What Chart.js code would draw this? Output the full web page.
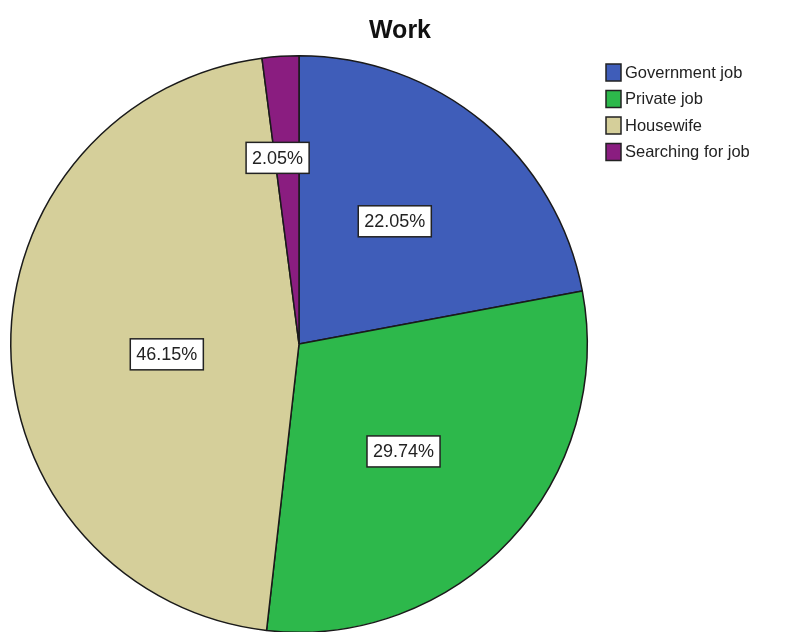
<!DOCTYPE html>
<html>
<head>
<meta charset="utf-8">
<script src="https://cdn.jsdelivr.net/npm/chart.js@4/dist/chart.umd.min.js"></script>
<style>
  html, body { margin: 0; padding: 0; background: #fff; overflow: hidden; }
  #wrap { position: relative; width: 796px; height: 640px; }
</style>
</head>
<body>
<div id="wrap"><canvas id="workChart"></canvas></div>
<script>
var categories = ["Government job", "Private job", "Housewife", "Searching for job"];
var percents = [22.05, 29.74, 46.15, 2.05];
var sliceColors = ["#3f5db9", "#2db84b", "#d5cf9a", "#8a1d80"];
// how far out (fraction of radius) each value box sits, and a small angle nudge (rad)
var labelDist = [0.54, 0.52, 0.46, 0.65];
var labelNudge = [-0.03, 0.05, -0.07, -0.05];

var font = "Arial, 'Liberation Sans', sans-serif";

var decorPlugin = {
    id: "decor",
    afterDraw: function(chart) {
        var ctx = chart.ctx;
        var meta = chart.getDatasetMeta(0);

        // value boxes on the slices
        ctx.save();
        ctx.font = "18px " + font;
        ctx.textAlign = "center";
        ctx.textBaseline = "middle";
        meta.data.forEach(function(arc, i) {
            var mid = (arc.startAngle + arc.endAngle) / 2 + labelNudge[i];
            var r = arc.outerRadius * labelDist[i];
            var x = arc.x + Math.cos(mid) * r;
            var y = arc.y + Math.sin(mid) * r;
            var txt = percents[i].toFixed(2) + "%";
            var w = ctx.measureText(txt).width + 12;
            var h = 31;
            ctx.fillStyle = "#fff";
            ctx.fillRect(x - w / 2, y - h / 2, w, h);
            ctx.strokeStyle = "#222";
            ctx.lineWidth = 1.5;
            ctx.strokeRect(x - w / 2, y - h / 2, w, h);
            ctx.fillStyle = "#222";
            ctx.fillText(txt, x, y + 1);
        });

        // title
        ctx.font = "bold 25px " + font;
        ctx.fillStyle = "#111";
        ctx.fillText("Work", 400, 31);

        // legend
        ctx.textAlign = "left";
        ctx.font = "16.5px " + font;
        categories.forEach(function(name, i) {
            var y = 72 + i * 26.5;
            ctx.fillStyle = sliceColors[i];
            ctx.fillRect(606, y - 8, 15, 17);
            ctx.strokeStyle = "#222";
            ctx.lineWidth = 1.5;
            ctx.strokeRect(606, y - 8, 15, 17);
            ctx.fillStyle = "#222";
            ctx.fillText(name, 625, y + 1);
        });
        ctx.restore();
    }
};

var ctx = document.getElementById("workChart");
var chart = new Chart(ctx, {
    type: "pie",
    data: {
        labels: categories,
        datasets: [{
            data: percents,
            backgroundColor: sliceColors,
            borderColor: "#1a1a1a",
            borderWidth: 1.5
        }]
    },
    options: {
        responsive: true,
        maintainAspectRatio: false,
        animation: false,
        layout: { padding: { left: 10, right: 208, top: 55, bottom: 7 } },
        plugins: {
            legend: { display: false },
            title: { display: false },
            tooltip: { enabled: false }
        }
    },
    plugins: [decorPlugin]
});
</script>
</body>
</html>
